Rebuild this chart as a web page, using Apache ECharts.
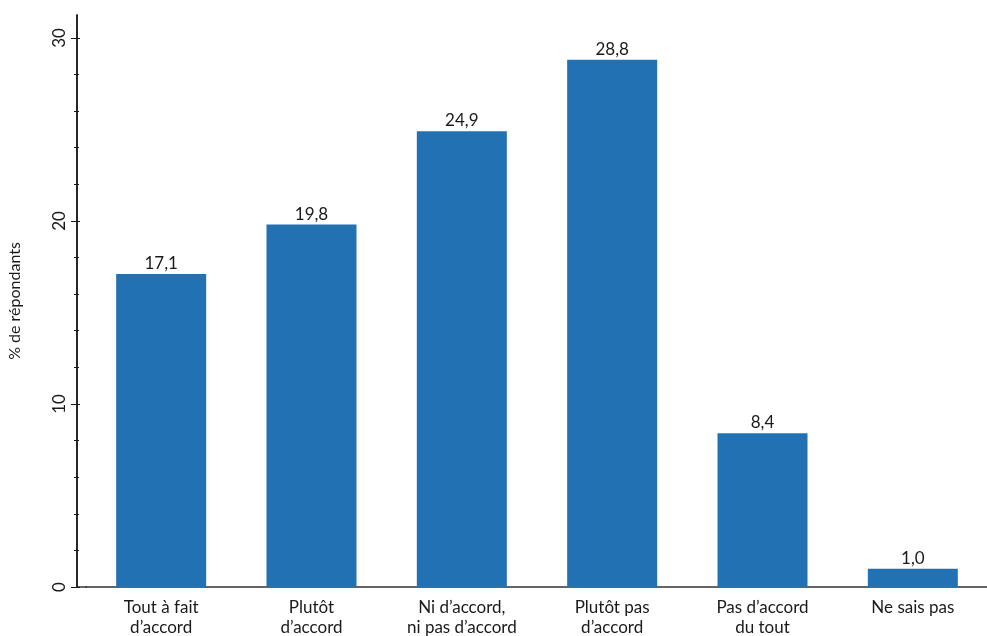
<!DOCTYPE html>
<html><head><meta charset="utf-8">
<script src="https://cdn.jsdelivr.net/npm/echarts@6/dist/echarts.min.js"></script>
<style>html,body{margin:0;padding:0;background:#fff}#c{width:987px;height:636px}</style>
</head><body><div id="c"></div>
<script>
const categories = ['Tout à fait\nd’accord', 'Plutôt\nd’accord', 'Ni d’accord,\nni pas d’accord', 'Plutôt pas\nd’accord', 'Pas d’accord\ndu tout', 'Ne sais pas'];
const values = [17.1, 19.8, 24.9, 28.8, 8.4, 1.0];
const yTicks = [0, 10, 20, 30];
const yName = '% de répondants';

const FONT = 'Lato';
const FS = 17;
const chart = echarts.init(document.getElementById('c'), null, {renderer: 'canvas'});
const yBase = {
  type: 'value', min: 0, max: 31.25, interval: 10, position: 'left', offset: 9,
  splitLine: {show: false},
  axisLine: {show: true, lineStyle: {color: '#1a1a1a', width: 1.5}},
};
chart.setOption({
  animation: false,
  textStyle: {fontFamily: FONT},
  grid: {left: 86, right: -1, top: 15, bottom: 49, containLabel: false, outerBoundsMode: 'none'},
  xAxis: {
    type: 'category', data: categories,
    axisLine: {lineStyle: {color: '#333', width: 1.5}},
    axisTick: {show: false},
    axisLabel: {color: '#1a1a1a', fontSize: FS, fontFamily: FONT, margin: 11, lineHeight: 20, interval: 0}
  },
  yAxis: [
    Object.assign({}, yBase, {
      name: yName, nameLocation: 'middle', nameGap: 54,
      nameTextStyle: {color: '#1a1a1a', fontSize: 16, fontFamily: FONT},
      axisTick: {show: true, inside: false, length: 6, customValues: yTicks, lineStyle: {color: '#1a1a1a'}},
      minorTick: {show: true, splitNumber: 5, length: 3, lineStyle: {color: '#1a1a1a'}},
      axisLabel: {show: true, rotate: 90, margin: 9, color: '#1a1a1a', fontSize: FS, fontFamily: FONT,
        customValues: yTicks, formatter: v => (v % 10 === 0 ? String(v) : '')}
    }),
    Object.assign({}, yBase, {
      axisTick: {show: true, inside: true, length: 3, customValues: yTicks, lineStyle: {color: '#1a1a1a'}},
      minorTick: {show: true, splitNumber: 5, length: 2, lineStyle: {color: '#1a1a1a'}},
      axisLabel: {show: false}
    })
  ],
  series: [{
    type: 'bar', data: values, barWidth: 90,
    itemStyle: {color: '#2271b3'},
    label: {show: true, position: 'top', distance: 2, color: '#1a1a1a', fontSize: FS, fontFamily: FONT,
      formatter: p => p.value.toFixed(1).replace('.', ',')}
  }]
});
// extend the x axis baseline to the offset y-axis
const p0 = chart.convertToPixel({gridIndex: 0}, [0, 0]);
chart.setOption({graphic: [{type: 'line', shape: {x1: 86 - 9, y1: p0[1], x2: 87, y2: p0[1]},
  style: {stroke: '#333', lineWidth: 1.5}}]});
</script></body></html>
